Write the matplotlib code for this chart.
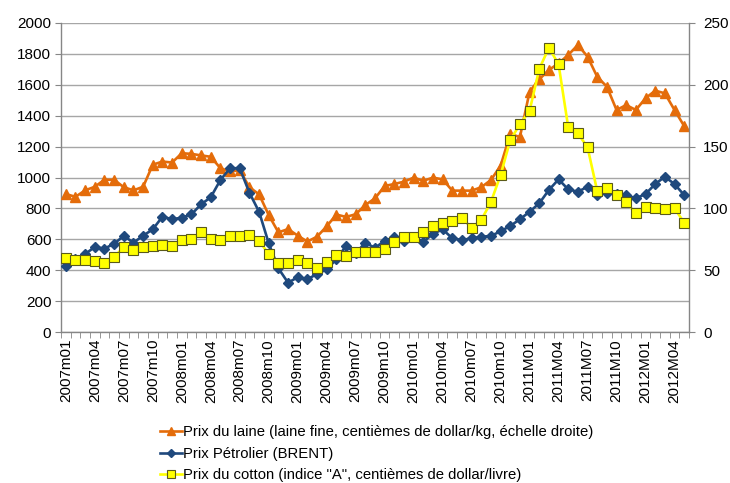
import matplotlib
matplotlib.use("Agg")
import matplotlib.pyplot as plt
from matplotlib.lines import Line2D
import numpy as np

# ---- data ----
months = []
for y in range(2007, 2013):
    for m in range(1, 13):
        if y == 2012 and m > 5:
            break
        tag = "m" if y < 2011 else "M"
        months.append(f"{y}{tag}{m:02d}")

wool = [893, 875, 917, 940, 986, 985, 937, 917, 940, 1083, 1103, 1097, 1157, 1153, 1143, 1134,
        1060, 1039, 1047, 937, 891, 757, 645, 666, 624, 585, 617, 684, 760, 745, 762, 822,
        865, 945, 958, 973, 999, 979, 999, 988, 915, 915, 915, 937, 984, 1076, 1282, 1262,
        1555, 1636, 1696, 1739, 1793, 1858, 1782, 1652, 1588, 1437, 1469, 1437, 1513, 1562,
        1545, 1437, 1333]

brent = [53.6, 58.8, 63.1, 68.8, 67.4, 71.5, 77.7, 72.3, 77.9, 83.1, 93.3, 91.2, 92.5, 95.2,
         103.3, 109.0, 123.0, 132.5, 132.5, 112.7, 97.3, 71.8, 51.5, 39.9, 44.3, 42.7, 46.9,
         50.7, 58.8, 69.6, 63.7, 72.3, 68.0, 73.9, 76.6, 73.9, 77.1, 73.0, 79.3, 83.1, 75.8,
         74.4, 75.8, 77.1, 77.7, 81.5, 85.8, 91.2, 97.3, 104.1, 114.9, 123.5, 115.4, 113.5,
         117.5, 110.8, 112.7, 111.6, 110.8, 108.2, 111.6, 119.7, 125.6, 119.7, 110.8]

cotton = [59.6, 58.0, 58.5, 57.7, 55.6, 60.9, 68.5, 66.6, 68.5, 69.6, 70.1, 69.8, 74.2, 75.5,
          80.7, 75.5, 74.7, 77.7, 77.7, 78.5, 73.9, 62.9, 55.6, 56.1, 58.3, 55.6, 51.5, 56.9,
          62.3, 61.7, 65.0, 64.5, 64.4, 67.4, 72.6, 77.1, 77.1, 80.7, 86.0, 88.4, 90.1, 92.0,
          84.4, 90.6, 105.2, 127.0, 155.3, 168.0, 179.0, 212.8, 230.0, 216.6, 165.6, 160.7,
          149.4, 114.1, 116.7, 110.8, 104.9, 96.0, 101.1, 100.6, 99.5, 100.1, 88.4]

labels = ["Prix du laine (laine fine, centièmes de dollar/kg, échelle droite)",
          "Prix Pétrolier (BRENT)",
          'Prix du cotton (indice "A", centièmes de dollar/livre)']

# ---- style ----
plt.rcParams['font.family'] = ['Liberation Sans Narrow', 'Liberation Sans', 'DejaVu Sans']
C_OR = '#E46C0A'
C_BL = '#1F497D'
C_YE = '#FFFF00'
GRID = '#A6A6A6'

fig = plt.figure(figsize=(7.3, 4.83), dpi=100)
ax1 = fig.add_axes([61/730, 1-332/483, (689-61)/730, (332-23)/483])
ax2 = ax1.twinx()

x = np.arange(len(months))
ax1.plot(x, wool, color=C_OR, lw=1.9, marker='^', ms=7.5, mec=C_OR, mfc=C_OR, zorder=3)
ax2.plot(x, brent, color=C_BL, lw=1.9, marker='D', ms=5.5, mec=C_BL, mfc=C_BL, zorder=3)
ax2.plot(x, cotton, color=C_YE, lw=1.9, marker='s', ms=7.5, mec='#5a5a1a', mew=0.8,
         mfc=C_YE, zorder=4)

ax1.set_xlim(-0.5, len(months) - 0.5)
ax1.set_ylim(0, 2000)
ax2.set_ylim(0, 250)
ax1.set_yticks(np.arange(0, 2001, 200))
ax2.set_yticks(np.arange(0, 251, 50))

ax1.yaxis.grid(True, color=GRID, lw=1.0)
ax1.set_axisbelow(True)

for ax in (ax1, ax2):
    ax.spines['top'].set_visible(False)
    for s in ('left', 'right', 'bottom'):
        ax.spines[s].set_color('#868686')
        ax.spines[s].set_linewidth(1.0)
ax2.spines['left'].set_visible(False)
ax1.spines['right'].set_visible(False)
ax2.spines['bottom'].set_visible(False)

ax1.tick_params(axis='y', labelsize=11, length=4, color='#868686', pad=3)
ax2.tick_params(axis='y', labelsize=11, length=4, color='#868686', pad=6)

# x ticks: labels every 3 months, tick marks on boundaries
ax1.set_xticks(x[::3])
ax1.set_xticklabels(months[::3], rotation=90, fontsize=11)
ax1.tick_params(axis='x', length=0, pad=5)
ax1.set_xticks(np.arange(-0.5, len(months), 1), minor=True)
ax1.tick_params(axis='x', which='minor', length=4, color='#868686')

handles = [Line2D([], [], color=C_OR, lw=1.9, marker='^', ms=6, mfc=C_OR, mec=C_OR),
           Line2D([], [], color=C_BL, lw=1.9, marker='D', ms=4.5, mfc=C_BL, mec=C_BL),
           Line2D([], [], color=C_YE, lw=1.9, marker='s', ms=6, mfc=C_YE, mec='#5a5a1a', mew=0.8)]
fig.legend(handles, labels, loc='upper center', bbox_to_anchor=(0.516, 1-415/483),
           frameon=False, fontsize=10.7, handlelength=1.5, handletextpad=0.1,
           labelspacing=0.5, borderpad=0.2)

fig.savefig('out.png', dpi=100)
